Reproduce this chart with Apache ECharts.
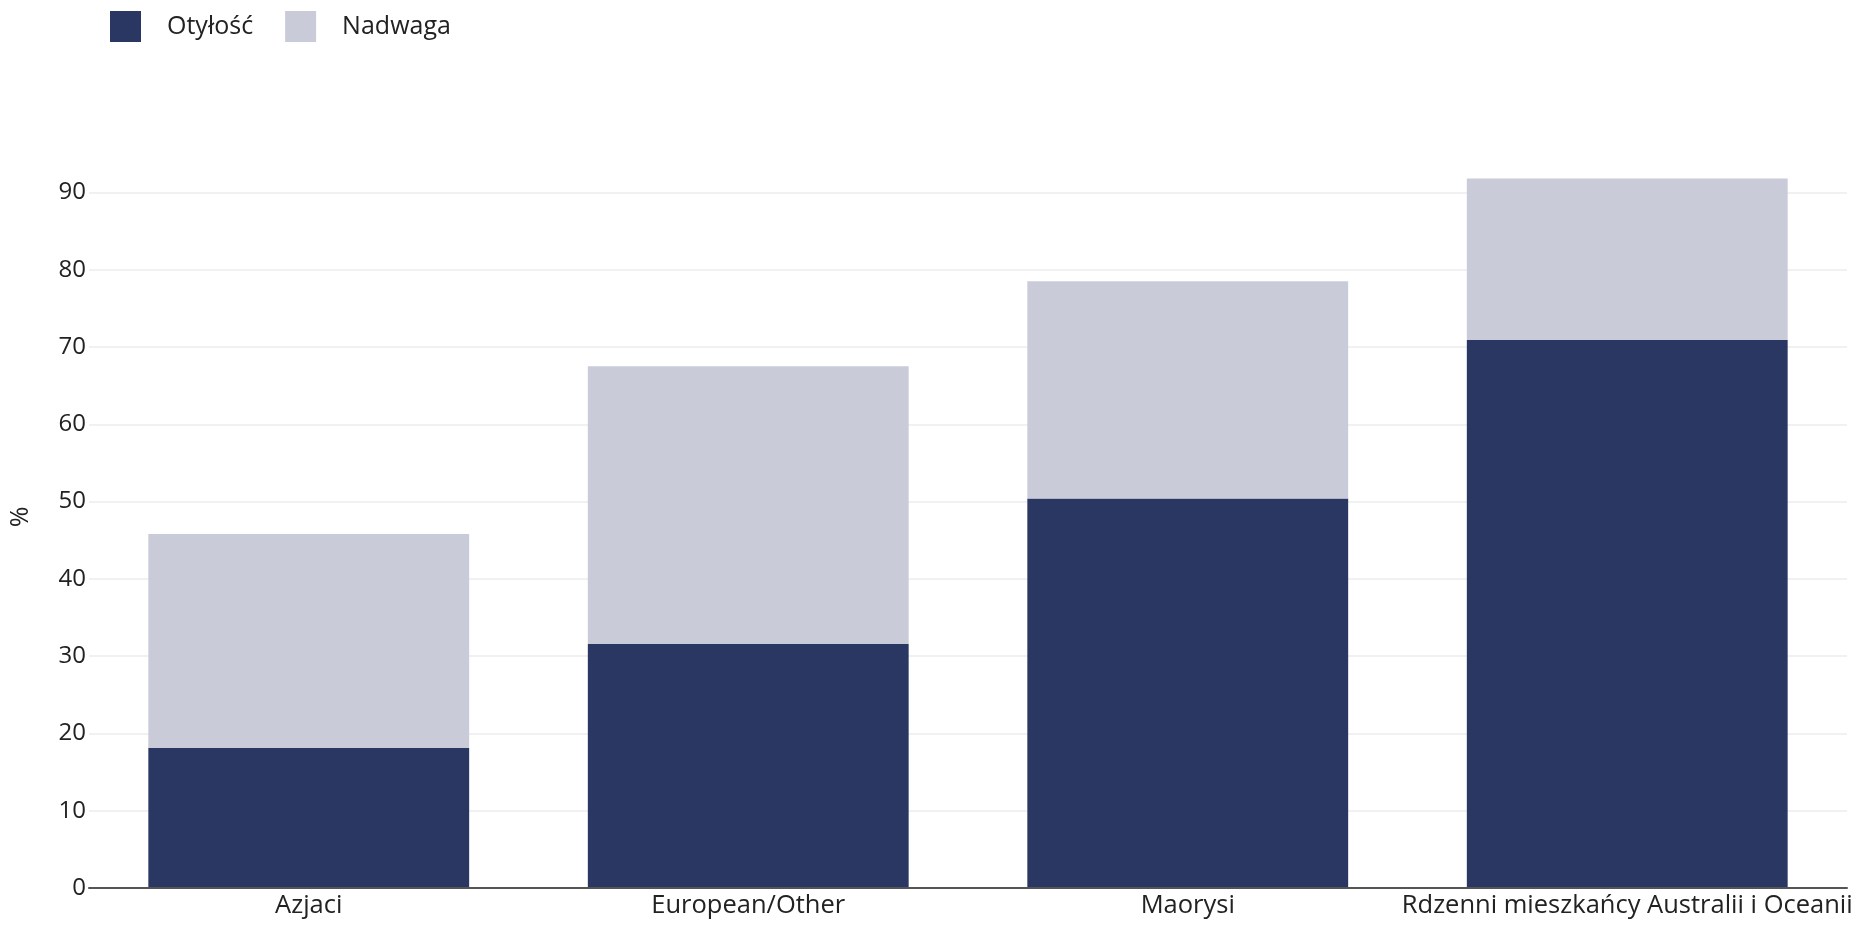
<!DOCTYPE html>
<html>
<head>
<meta charset="utf-8">
<script src="https://cdn.jsdelivr.net/npm/echarts@6/dist/echarts.min.js"></script>
<style>
html,body{margin:0;padding:0;background:#fff;}
#chart{width:1857px;height:931px;}
</style>
</head>
<body>
<div id="chart"></div>
<script>
const categories = ['Azjaci', 'European/Other', 'Maorysi', 'Rdzenni mieszkańcy Australii i Oceanii'];
const obesity = [18.1, 31.6, 50.4, 70.9];
const overweight = [27.7, 35.9, 28.1, 20.9];
const seriesNames = ['Otyłość', 'Nadwaga'];
const yAxisName = '%';

const FONT = '"Open Sans", sans-serif';
const chart = echarts.init(document.getElementById('chart'));
chart.setOption({
  animation: false,
  backgroundColor: '#ffffff',
  textStyle: { fontFamily: FONT },
  legend: {
    left: 110,
    top: 11,
    padding: 0,
    itemWidth: 31,
    itemHeight: 31,
    itemGap: 32,
    icon: 'rect',
    textStyle: { fontFamily: FONT, fontSize: 25, color: '#222', padding: [5, 0, 0, 21] },
    data: seriesNames
  },
  grid: { left: 84, right: 10, top: 146, bottom: 43, containLabel: false },
  xAxis: {
    type: 'category',
    data: categories,
    axisTick: { show: false },
    axisLine: { lineStyle: { color: '#555', width: 2 } },
    axisLabel: { interval: 0, fontSize: 25.5, color: '#222', fontFamily: FONT, margin: 5 },
    z: 10
  },
  yAxis: {
    type: 'value',
    min: 0,
    max: 96,
    interval: 10,
    name: yAxisName,
    nameLocation: 'middle',
    nameGap: 56,
    nameTextStyle: { fontSize: 25, color: '#222', fontFamily: FONT },
    axisLine: { show: false },
    axisTick: { show: false },
    axisLabel: { fontSize: 24, color: '#222', fontFamily: FONT, margin: 3, showMaxLabel: false },
    splitLine: { showMaxLine: false, lineStyle: { color: '#ececec', width: 1.5 } }
  },
  series: [
    {
      name: seriesNames[0],
      type: 'bar',
      stack: 'total',
      data: obesity,
      barCategoryGap: '27%',
      itemStyle: { color: '#2a3763' }
    },
    {
      name: seriesNames[1],
      type: 'bar',
      stack: 'total',
      data: overweight,
      itemStyle: { color: '#c9cbd8' }
    }
  ]
});
</script>
</body>
</html>
